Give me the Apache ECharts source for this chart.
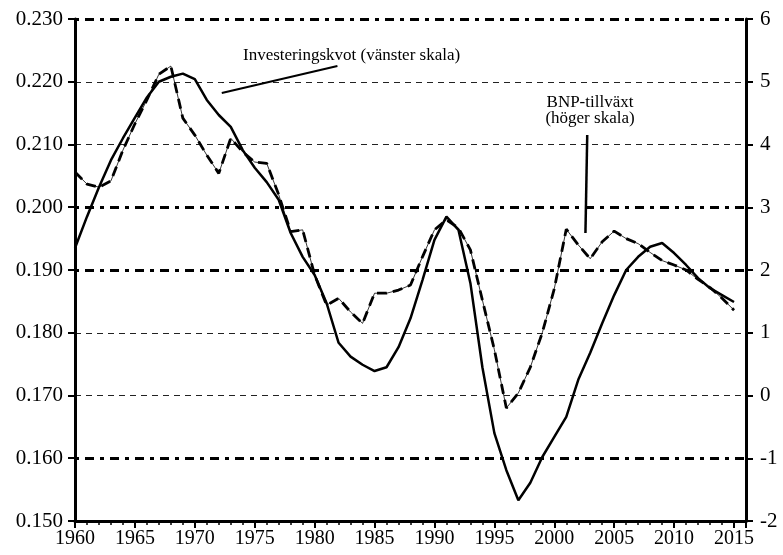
<!DOCTYPE html>
<html>
<head>
<meta charset="utf-8">
<script src="https://cdn.jsdelivr.net/npm/echarts@6/dist/echarts.min.js"></script>
<style>
    html, body { margin: 0; padding: 0; background: #fff; }
    #chart { width: 783px; height: 555px; }
</style>
</head>
<body>
<div id="chart"></div>
<script>
// år 1960-2015
const years = [
    1960, 1961, 1962, 1963, 1964, 1965, 1966, 1967, 1968, 1969,
    1970, 1971, 1972, 1973, 1974, 1975, 1976, 1977, 1978, 1979,
    1980, 1981, 1982, 1983, 1984, 1985, 1986, 1987, 1988, 1989,
    1990, 1991, 1992, 1993, 1994, 1995, 1996, 1997, 1998, 1999,
    2000, 2001, 2002, 2003, 2004, 2005, 2006, 2007, 2008, 2009,
    2010, 2011, 2012, 2013, 2014, 2015
];

// Investeringskvot (vänster skala)
const investKvot = [
    0.1935, 0.1985, 0.2032, 0.2075, 0.2110, 0.2143, 0.2175, 0.2200, 0.2208, 0.2213,
    0.2204, 0.2171, 0.2147, 0.2128, 0.2091, 0.2063, 0.2040, 0.2012, 0.1959, 0.1921,
    0.1892, 0.1847, 0.1784, 0.1762, 0.1749, 0.1739, 0.1745, 0.1777, 0.1823, 0.1884,
    0.1948, 0.1985, 0.1964, 0.1879, 0.1745, 0.1640, 0.1581, 0.1533, 0.1561, 0.1602,
    0.1634, 0.1666, 0.1725, 0.1768, 0.1815, 0.1860, 0.1900, 0.1921, 0.1937, 0.1943,
    0.1927, 0.1908, 0.1887, 0.1871, 0.1860, 0.1849
];

// BNP-tillväxt (höger skala)
const bnpTillvaxt = [
    3.56, 3.37, 3.32, 3.42, 3.91, 4.33, 4.71, 5.12, 5.25, 4.42,
    4.15, 3.83, 3.54, 4.10, 3.88, 3.72, 3.70, 3.20, 2.61, 2.64,
    1.92, 1.44, 1.55, 1.33, 1.15, 1.63, 1.63, 1.68, 1.76, 2.21,
    2.64, 2.80, 2.67, 2.32, 1.52, 0.73, -0.20, 0.04, 0.45, 1.00,
    1.70, 2.65, 2.40, 2.18, 2.45, 2.62, 2.50, 2.42, 2.28, 2.15,
    2.08, 2.00, 1.85, 1.72, 1.55, 1.36
];

// pekare för etiketterna [år, värde]
const investPointer = [[1972.25, 0.2182], [1981.9, 0.2225]];
const bnpPointer = [[2002.75, 4.15], [2002.6, 2.59]];

const FONT = '"Liberation Serif", "DejaVu Serif", serif';
const T = 'rgba(0,0,0,0)';

const chart = echarts.init(document.getElementById('chart'));

const option = {
    animation: false,
    backgroundColor: '#fff',
    grid: { left: 75, right: 37, top: 19, bottom: 34 },
    xAxis: {
        type: 'value',
        min: 1960,
        max: 2016,
        interval: 5,
        axisLine: { onZero: false, lineStyle: { color: '#000', width: 3 } },
        axisTick: { show: true, length: 7, lineStyle: { color: '#000', width: 2 } },
        minorTick: { show: true, splitNumber: 5, length: 4, lineStyle: { color: '#000', width: 1.5 } },
        splitLine: { show: false },
        axisLabel: {
            color: '#000',
            fontFamily: FONT,
            fontSize: 20,
            margin: 8,
            formatter: function(v) { return v % 5 === 0 ? String(v) : ''; }
        }
    },
    yAxis: [
        {
            type: 'value',
            position: 'left',
            min: 0.15,
            max: 0.23,
            interval: 0.01,
            axisLine: { show: true, onZero: false, lineStyle: { color: '#000', width: 3 } },
            axisTick: { show: true, length: 7, lineStyle: { color: '#000', width: 2 } },
            axisLabel: {
                color: '#000',
                fontFamily: FONT,
                fontSize: 21,
                margin: 12,
                formatter: function(v) { return v.toFixed(3); }
            },
            // tunna streckade linjer
            splitLine: {
                show: true,
                lineStyle: {
                    color: [T, T, '#222', '#222', T, T, '#222', '#222', T],
                    width: 1,
                    type: [6, 5]
                }
            }
        },
        {
            type: 'value',
            position: 'right',
            min: -2,
            max: 6,
            interval: 1,
            axisLine: { show: true, onZero: false, lineStyle: { color: '#000', width: 3 } },
            axisTick: { show: true, length: 7, lineStyle: { color: '#000', width: 2 } },
            axisLabel: {
                color: '#000',
                fontFamily: FONT,
                fontSize: 21,
                margin: 14
            },
            // tjocka punktstreckade linjer
            splitLine: {
                show: true,
                lineStyle: {
                    color: [T, '#000', T, T, '#000', '#000', T, T, '#000'],
                    width: 3,
                    type: [4, 6, 9, 6]
                }
            }
        }
    ],
    series: [
        {
            name: 'Investeringskvot',
            type: 'line',
            yAxisIndex: 0,
            symbol: 'none',
            z: 5,
            lineStyle: { color: '#000', width: 2.5 },
            data: years.map((y, i) => [y, investKvot[i]]),
            markLine: {
                silent: true,
                symbol: 'none',
                label: { show: false },
                lineStyle: { color: '#000', width: 2, type: 'solid' },
                data: [[{ coord: investPointer[0] }, { coord: investPointer[1] }]]
            }
        },
        {
            name: 'BNP-tillväxt tunn',
            type: 'line',
            yAxisIndex: 1,
            symbol: 'none',
            z: 4,
            lineStyle: { color: '#000', width: 0.8 },
            data: years.map((y, i) => [y, bnpTillvaxt[i]])
        },
        {
            name: 'BNP-tillväxt',
            type: 'line',
            yAxisIndex: 1,
            symbol: 'none',
            z: 4,
            lineStyle: { color: '#000', width: 2.8, type: [10, 6] },
            data: years.map((y, i) => [y, bnpTillvaxt[i]]),
            markLine: {
                silent: true,
                symbol: 'none',
                label: { show: false },
                lineStyle: { color: '#000', width: 2.5, type: 'solid' },
                data: [[{ coord: bnpPointer[0] }, { coord: bnpPointer[1] }]]
            }
        }
    ],
    graphic: [
        {
            type: 'text',
            left: 243,
            top: 47,
            style: { text: 'Investeringskvot (vänster skala)', fill: '#000', font: '17px ' + FONT }
        },
        {
            type: 'text',
            x: 590,
            y: 111,
            style: {
                text: 'BNP-tillväxt\n(höger skala)',
                fill: '#000',
                font: '17px ' + FONT,
                align: 'center',
                verticalAlign: 'middle',
                lineHeight: 16
            }
        }
    ]
};

chart.setOption(option);
</script>
</body>
</html>
